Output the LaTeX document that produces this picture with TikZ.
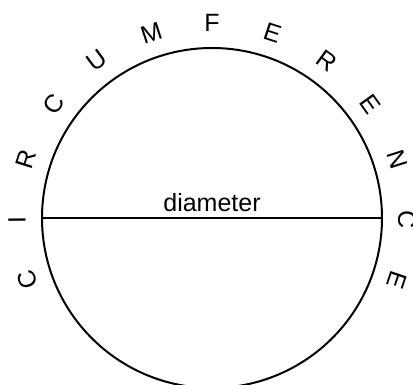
\documentclass[tikz,border=0pt]{standalone}
\usepackage{fontspec}
\setmainfont{Liberation Sans}
\usepackage{tikz}
\usetikzlibrary{calc}

\begin{document}
\begin{tikzpicture}[
    x=1pt,y=1pt,
    rim/.style={draw,line width=2pt},
    chord/.style={line width=1.1pt},
    letter/.style={inner sep=0pt,font=\fontsize{25}{30}\selectfont},
    label/.style={inner sep=0pt,anchor=base,font=\fontsize{25}{30}\selectfont}
  ]
    \useasboundingbox (0,0) rectangle (413,385);
    \coordinate (o) at (212,167);
    \draw[rim] (o) circle[radius=170];
    \coordinate (west) at ($(o)+(180:170)$);
    \coordinate (east) at ($(o)+(0:170)$);
    \draw[chord] (west) -- (east);
    \node[label] (diam) at ($(o)+(0,6)$) {diameter};
    % letters round the rim
    \foreach \ch [count=\i from 0] in {C,I,R,C,U,M,F,E,R,E,N,C,E} {
      \pgfmathsetmacro{\ang}{198.6-18.1*\i}
      \node[letter,rotate=\ang-90] (ch\i) at ($(o)+(\ang:195)$) {\ch};
    }
  \end{tikzpicture}
\end{document}
